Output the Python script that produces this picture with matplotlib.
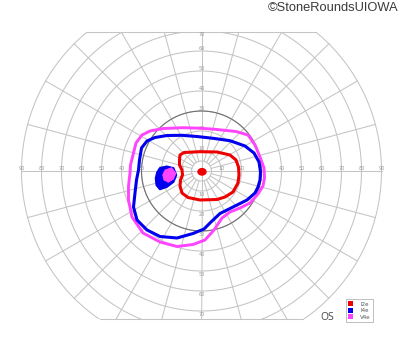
import numpy as np
import matplotlib
matplotlib.use('Agg')
import matplotlib.pyplot as plt
from matplotlib.patches import Patch, Polygon, Ellipse

# isopters, degrees of visual field (x: right, y: up)
red_x = [-10.75, -8.75, -0.75, 7.75, 14.25, 17.25, 18.5, 18.75, 18.25, 15.75, 11.75,
         7.75, -0.75, -6.75, -9.75, -10.75, -10.5, -9.5, -9.75, -11, -11]
red_y = [8, 9.25, 9.65, 9.5, 8, 5.5, 2, -2, -6, -10.5, -13,
         -14.25, -14.5, -13.25, -11, -7.5, -4.5, -2, 0.5, 3, 5.5]

blue_x = [-31.5, -31, -30, -27.25, -23.25, -17.25, -9.75, -2.25, 5.75, 14.25, 21.75,
          26.25, 28.75, 29.5, 29.25, 28.25, 26.75, 22.75, 15.75, 9.25, 4.75, 1.25,
          -4.25, -12.25, -20.75, -27.25, -32.25, -34, -33.25, -32.5]
blue_y = [0.5, 5.5, 11.5, 15, 16.75, 17.75, 17.85, 17.25, 16.35, 15.15, 12.5,
          9, 4.5, -0.5, -4.5, -8, -11, -14.5, -18, -21.25, -25.5, -29,
          -31.25, -33.5, -32.75, -29.5, -24.5, -18, -11, -4.5]

mag_x = [-35.75, -35.5, -34.25, -32.75, -29.75, -25.75, -19.25, -9.25, -0.75, 6.75, 17.25,
         23.25, 26.75, 29.25, 31.25, 31.5, 30.75, 28.25, 24.25, 19.25, 14.25, 10.25,
         6.25, 1.75, -4.25, -12.25, -20.75, -29.25, -34.75, -36.5, -36.5]
mag_y = [-1, 3, 8, 14, 18, 20, 21.25, 21.65, 21.4, 20.85, 19.75,
         18, 13, 7, 1.5, -3.5, -7.5, -11.5, -16, -18.5, -20.5, -23.5,
         -29.5, -34.5, -36.75, -37.75, -35.5, -31, -23, -14.5, -7.5]

# blind spot
bs_blue_x = [-20.75, -17.4, -14.1, -12.75, -14.1, -17.4, -20.75, -22.4, -22.75, -22.1]
bs_blue_y = [1.35, 2.15, 1.35, -2, -5.35, -7.85, -9, -7, -3.65, -0.85]
bs_mag_x = [-18.25, -14.9, -12.75, -14.1, -16.6, -18.75, -19.4]
bs_mag_y = [0.5, 1.65, -1.15, -4.15, -5.65, -4.5, -2]

# small central I2e spot
dot_xy = (0.25, -0.4)
dot_w, dot_h = 4.0, 3.2

rings = [10, 20, 30, 40, 50, 60, 70, 80, 90]
vert_labels = [10, 20, 30, 40, 50, 60, 70]
top_cut = 69.3
bottom_cut = 74.2

fig = plt.figure(figsize=(4, 3.52), dpi=100)
ax = fig.add_axes([0, 0, 1, 1])
ax.set_xlim(-100.75, 99.25)
ax.set_ylim(-90.5, 85.5)
ax.set_axis_off()

gc = '#c4c4c4'
glw = 0.75

# clip the grid to the band between the cut lines
clip = plt.Rectangle((-95, -bottom_cut), 190, top_cut + bottom_cut, transform=ax.transData)

t = np.linspace(0, 2 * np.pi, 721)
for r in rings + [5]:
    ln, = ax.plot(r * np.cos(t), r * np.sin(t), color=gc, lw=glw, zorder=1)
    ln.set_clip_path(clip)
ax.plot(30 * np.cos(t), 30 * np.sin(t), color='#707070', lw=0.8, zorder=2)

for a in np.arange(0, 360, 15):
    ar = np.radians(a)
    r0 = 0 if a % 90 == 0 else 5
    ln, = ax.plot([r0 * np.cos(ar), 90 * np.cos(ar)], [r0 * np.sin(ar), 90 * np.sin(ar)],
                  color=gc, lw=glw, zorder=1)
    ln.set_clip_path(clip)

# top / bottom edges
wt = np.sqrt(90**2 - top_cut**2)
wb = np.sqrt(90**2 - bottom_cut**2)
ax.plot([-wt, wt], [top_cut, top_cut], color=gc, lw=glw, zorder=1)
ax.plot([-wb, wb], [-bottom_cut, -bottom_cut], color=gc, lw=glw, zorder=1)

lc = '#999999'
for r in rings:
    ax.text(r, 1.0, str(r), fontsize=3.6, color=lc, ha='center', va='center', zorder=3)
    ax.text(-r, 1.0, str(r), fontsize=3.6, color=lc, ha='center', va='center', zorder=3)
for r in vert_labels:
    ax.text(0, min(r + 1.0, top_cut - 1.3), str(r), fontsize=3.6, color=lc,
            ha='center', va='center', zorder=3)
    ax.text(0, -r - 1.7, str(r), fontsize=3.6, color=lc, ha='center', va='center', zorder=3)

# isopters
ax.add_patch(Polygon(np.c_[mag_x, mag_y], closed=True, fill=False, ec='#ff44ff', lw=2.1,
                     joinstyle='round', zorder=5))
ax.add_patch(Polygon(np.c_[blue_x, blue_y], closed=True, fill=False, ec='#0000ee', lw=2.2,
                     joinstyle='round', zorder=6))
ax.add_patch(Polygon(np.c_[red_x, red_y], closed=True, fill=False, ec='#ee0000', lw=2.2,
                     joinstyle='round', zorder=7))
ax.add_patch(Polygon(np.c_[bs_blue_x, bs_blue_y], closed=True, fc='#0000ee', ec='#0000ee',
                     lw=1.8, joinstyle='round', zorder=6))
ax.add_patch(Polygon(np.c_[bs_mag_x, bs_mag_y], closed=True, fc='#ff44ff', ec='#ff44ff',
                     lw=0.6, zorder=7))
ax.add_patch(Ellipse(dot_xy, dot_w, dot_h, fc='#ee0000', ec='#ee0000', zorder=7))

handles = [Patch(fc='#ee0000', ec='none', label='I2e'),
           Patch(fc='#0000ee', ec='none', label='I4e'),
           Patch(fc='#ff44ff', ec='none', label='V4e')]
leg = fig.legend(handles=handles, loc='lower right', bbox_to_anchor=(0.9325, 0.085),
                 fontsize=4, frameon=True, fancybox=False, handlelength=0.9,
                 handleheight=1.0, handletextpad=1.2, borderpad=0.4, labelspacing=0.2,
                 borderaxespad=0)
leg.get_frame().set_edgecolor('#b0b0b0')
leg.get_frame().set_linewidth(0.7)
for txt in leg.get_texts():
    txt.set_color('#555555')

fig.text(327 / 400, 1 - 317 / 352, 'OS', fontsize=7.5, color='#444444',
         ha='center', va='center', family='Open Sans')
fig.text(398 / 400, 1 - 8 / 352, '\u00a9StoneRoundsUIOWA', fontsize=9.3, color='#3a3a3a',
         ha='right', va='center', family='Liberation Sans')

fig.savefig('out.png', dpi=100)
